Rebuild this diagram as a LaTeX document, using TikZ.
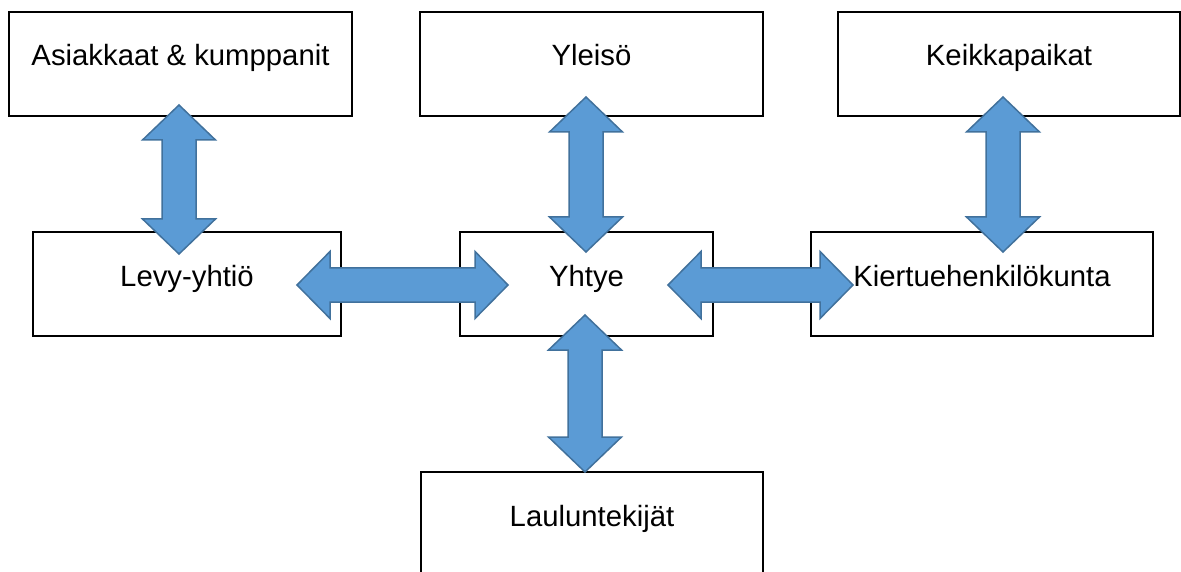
\documentclass[tikz,border=0pt]{standalone}
\usepackage{fontspec}
\setmainfont{Liberation Sans}
\usetikzlibrary{calc}
\definecolor{arrowfill}{HTML}{5B9BD5}
\definecolor{arrowline}{HTML}{41719C}
\tikzset{
  box/.style={draw=black, line width=2.2pt, fill=white, minimum height=104pt,
    inner sep=0pt, text height=20pt, text depth=6pt,
    font=\fontsize{29.3}{35}\selectfont},
  barrow/.style={fill=arrowfill, draw=arrowline, line width=1.5pt, line join=miter}
}
\newcommand{\vdarrow}[2]{%
  \path[barrow] let \p1=(#1), \p2=(#2) in
    (\x1,\y1) -- (\x1+36.5pt,\y1-35pt) -- (\x1+17pt,\y1-35pt) -- (\x1+17pt,\y2+35pt)
    -- (\x1+36.5pt,\y2+35pt) -- (\x1,\y2) -- (\x1-36.5pt,\y2+35pt) -- (\x1-17pt,\y2+35pt)
    -- (\x1-17pt,\y1-35pt) -- (\x1-36.5pt,\y1-35pt) -- cycle;}
\newcommand{\hdarrow}[2]{%
  \path[barrow] let \p1=(#1), \p2=(#2) in
    (\x1,\y1) -- (\x1+33pt,\y1+33.5pt) -- (\x1+33pt,\y1+17pt) -- (\x2-33pt,\y1+17pt)
    -- (\x2-33pt,\y1+33.5pt) -- (\x2,\y1) -- (\x2-33pt,\y1-33.5pt) -- (\x2-33pt,\y1-17pt)
    -- (\x1+33pt,\y1-17pt) -- (\x1+33pt,\y1-33.5pt) -- cycle;}
\newcommand{\boxtext}[1]{\raisebox{5pt}[\height][\depth]{#1}}
\begin{document}
\begin{tikzpicture}[x=1pt,y=-1pt]
\useasboundingbox (0,0) rectangle (1181,572);
\clip (0,0) rectangle (1181,572);
% boxes
\node[box, minimum width=343pt] (asiak) at (180.5,64) {\boxtext{Asiakkaat \& kumppanit}};
\node[box, minimum width=343pt] (yleiso) at (591.5,64) {\boxtext{Yleisö}};
\node[box, minimum width=342pt] (keikka) at (1009,64) {\boxtext{Keikkapaikat}};
\node[box, minimum width=308pt] (levy) at (187,284) {\boxtext{Levy-yhtiö}};
\node[box, minimum width=253pt] (yhtye) at (586.5,284) {\boxtext{Yhtye}};
\node[box, minimum width=342pt] (kiertue) at (982,284) {\boxtext{Kiertuehenkilökunta}};
\node[box, minimum width=342pt] (laulu) at (592,524) {\boxtext{Lauluntekijät}};
% arrow tips
\coordinate (aT) at (179,105);
\coordinate (aB) at (179,254);
\coordinate (bT) at (586,97);
\coordinate (bB) at (586,252);
\coordinate (cT) at (1003,97);
\coordinate (cB) at (1003,252);
\coordinate (dT) at (585,315);
\coordinate (dB) at (585,472);
\coordinate (eL) at (297,285);
\coordinate (eR) at (508,285);
\coordinate (fL) at (668,285);
\coordinate (fR) at (853,285);
% arrows
\vdarrow{aT}{aB}
\vdarrow{bT}{bB}
\vdarrow{cT}{cB}
\vdarrow{dT}{dB}
\hdarrow{eL}{eR}
\hdarrow{fL}{fR}
\end{tikzpicture}
\end{document}
